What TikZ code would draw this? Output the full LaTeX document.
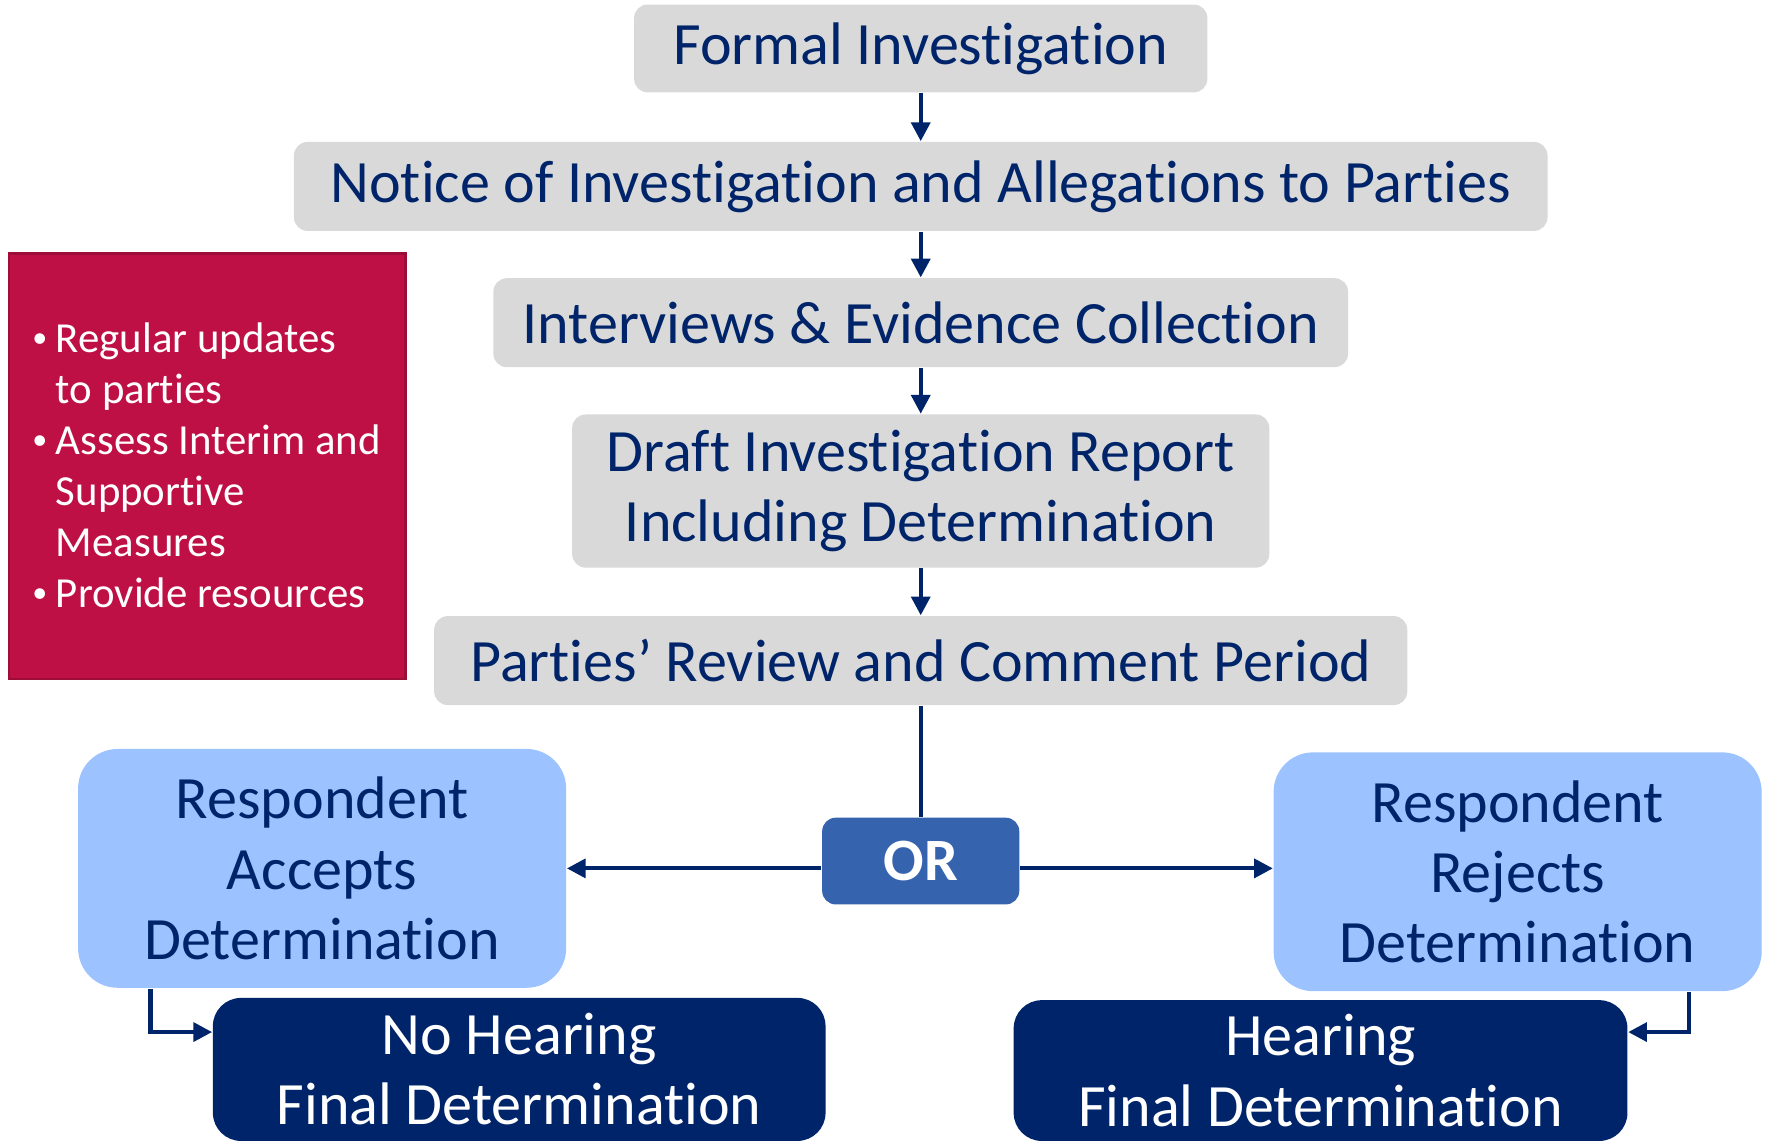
\documentclass[tikz,border=0pt]{standalone}
\usepackage{fontspec}
\setmainfont{Carlito}[Ligatures={NoCommon}]
\usepackage{xcolor}
\usetikzlibrary{arrows.meta,calc,positioning}
\definecolor{navy}{HTML}{002469}
\definecolor{boxgray}{HTML}{D9D9D9}
\definecolor{lightblue}{HTML}{9CC2FF}
\definecolor{orblue}{HTML}{3563AE}
\definecolor{crimson}{HTML}{BE1045}
\definecolor{crimsonline}{HTML}{9C0D3A}
\newcommand{\bul}{\makebox[6.3pt][l]{\raisebox{1.3pt}{\fontsize{8}{8}\selectfont\textbullet}}}

\begin{document}
\begin{tikzpicture}[x=0.3pt,y=0.3pt,
	stage/.style={fill=boxgray,text=navy,rounded corners=3.6pt,align=center,inner sep=0pt,font=\fontsize{16}{18.7}\selectfont},
	answer/.style={fill=lightblue,text=navy,rounded corners=10.5pt,align=center,inner sep=0pt,font=\fontsize{16}{18.7}\selectfont,minimum width=130pt,minimum height=63.6pt},
	final/.style={fill=navy,text=white,rounded corners=7.5pt,align=center,inner sep=0pt,font=\fontsize{16}{18.7}\selectfont},
	flow/.style={draw=navy,line width=1.1pt,-{Triangle[length=5pt,width=5pt]}}]
	\clip (0,0) rectangle (1568,-1015);
	% steps of the investigation
	\node[stage,minimum width=152.7pt,minimum height=23.4pt] (formal) at (817.5,-43) {Formal Investigation};
	\node[stage,minimum width=333.9pt,minimum height=23.7pt] (notice) at (817.5,-165.5) {Notice of Investigation and Allegations to Parties};
	\node[stage,minimum width=227.7pt,minimum height=23.7pt] (interview) at (817.5,-286.5) {Interviews \& Evidence Collection};
	\node[stage,minimum width=185.7pt,minimum height=40.8pt] (draft) at (817.5,-436) {Draft Investigation Report\\Including Determination};
	\node[stage,minimum width=259.2pt,minimum height=23.7pt] (review) at (817.5,-586.5) {Parties’ Review and Comment Period};
	% side note
	\node[draw=crimsonline,fill=crimson,line width=0.6pt,minimum width=105.6pt,minimum height=113.4pt] (note) at (184,-414) {};
	\node[anchor=west,text=white,align=left,inner sep=0pt,font=\fontsize{11.4}{13.6}\selectfont] (notetext) at (28,-413)
		{\bul Regular updates\\\hspace*{6.3pt}to parties\\\bul Assess Interim and\\\hspace*{6.3pt}Supportive\\\hspace*{6.3pt}Measures\\\bul Provide resources};
	% outcomes
	\node[fill=orblue,text=white,rounded corners=3.6pt,inner sep=0pt,minimum width=52.5pt,minimum height=23.1pt,font=\fontsize{16}{18.7}\selectfont\bfseries] (or) at (817.5,-764.5) {OR};
	\node[answer] (accept) at (286,-771) {Respondent\\Accepts\\Determination};
	\node[answer] (reject) at (1347.5,-774) {Respondent\\Rejects\\Determination};
	\node[final,minimum width=163.2pt,minimum height=38.1pt] (nohear) at (461,-949.5) {No Hearing\\Final Determination};
	\node[final,minimum width=163.5pt,minimum height=37.5pt] (hear) at (1172.5,-950.5) {Hearing\\Final Determination};
	% connectors
	\draw[flow] (formal) -- (notice);
	\draw[flow] (notice) -- (interview);
	\draw[flow] (interview) -- (draft);
	\draw[flow] (draft) -- (review);
	\draw[draw=navy,line width=1.1pt] (review) -- (or);
	\draw[flow] (or.west |- accept.east) -- (accept.east);
	\draw[flow] (or.east |- accept.east) -- (reject.west |- accept.east);
	\draw[flow] ($(accept.south west)+(65,0)$) |- ($(nohear.north west)+(0,-31)$);
	\draw[flow] ($(reject.south east)+(-65,0)$) |- ($(hear.north east)+(0,-29)$);
\end{tikzpicture}
\end{document}
